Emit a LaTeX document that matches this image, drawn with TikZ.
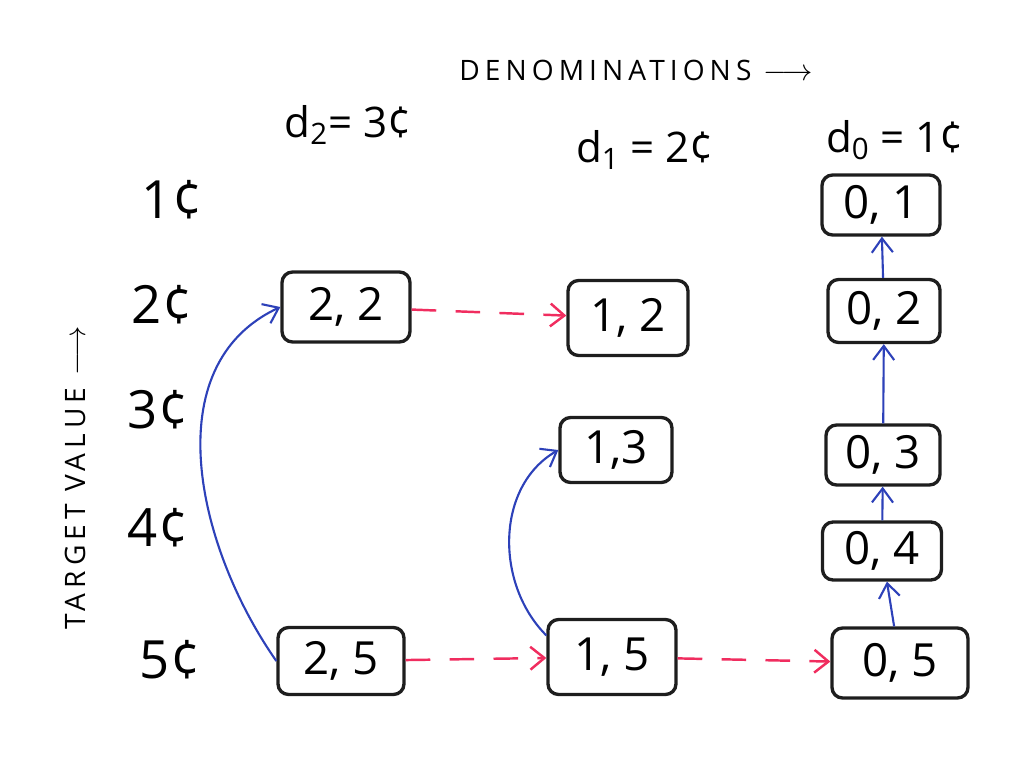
\documentclass[tikz,border=0pt]{standalone}
\usepackage{fontspec}
\setmainfont{Open Sans}
\usetikzlibrary{arrows.meta}
\definecolor{colBox}{RGB}{30,30,30}
\definecolor{colTake}{RGB}{45,65,185}
\definecolor{colSkip}{RGB}{240,45,95}
\tikzset{
  cell/.style={
    rectangle, rounded corners=6pt,
    draw=colBox, line width=1.9pt,
    text centered, font=\fontsize{26}{30}\selectfont,
    inner sep=2pt
  },
  takeArr/.style={
    -{Straight Barb[length=8pt, width=12pt]}, line width=1.2pt, color=colTake
  },
  skipArr/.style={
    -{Straight Barb[length=8pt, width=13pt]}, line width=1.4pt, color=colSkip,
    dash pattern=on 14pt off 11pt
  },
  rowLab/.style={font=\fontsize{30}{34}\selectfont},
  colLab/.style={font=\fontsize{24}{28}\selectfont},
  axisLab/.style={font=\fontsize{16}{19}\selectfont\addfontfeature{LetterSpace=18}}
}

\begin{document}
\begin{tikzpicture}[x=0.02cm, y=-0.02cm]
  \useasboundingbox (0,0) rectangle (1024,768);

  % table cells
  \node[cell, minimum width=2.56cm, minimum height=1.4cm] (c22) at (346,307) {2, 2};
  \node[cell, minimum width=2.52cm, minimum height=1.34cm] (c25) at (341,661) {2, 5};
  \node[cell, minimum width=2.4cm, minimum height=1.5cm] (c12) at (628,318) {1, 2};
  \node[cell, minimum width=2.24cm, minimum height=1.3cm] (c13) at (616,450) {1,3};
  \node[cell, minimum width=2.56cm, minimum height=1.5cm] (c15) at (612,657) {1, 5};
  \node[cell, minimum width=2.36cm, minimum height=1.2cm] (c01) at (881,205) {0, 1};
  \node[cell, minimum width=2.24cm, minimum height=1.26cm] (c02) at (884,311) {0, 2};
  \node[cell, minimum width=2.28cm, minimum height=1.2cm] (c03) at (883,455) {0, 3};
  \node[cell, minimum width=2.38cm, minimum height=1.16cm] (c04) at (882,551) {0, 4};
  \node[cell, minimum width=2.72cm, minimum height=1.4cm] (c05) at (900,663) {0, 5};

  % row and column labels
  \node[rowLab] (r1) at (172,200) {1¢};
  \node[rowLab] (r2) at (162,305) {2¢};
  \node[rowLab] (r3) at (158,410) {3¢};
  \node[rowLab] (r4) at (158,528) {4¢};
  \node[rowLab] (r5) at (170,660) {5¢};
  \node[colLab] (d2) at (348,125) {d\textsubscript{2}= 3¢};
  \node[colLab] (d1) at (645,150) {d\textsubscript{1} = 2¢};
  \node[colLab] (d0) at (895,140) {d\textsubscript{0} = 1¢};

  % axis titles
  \node[axisLab] (denom) at (636,70) {DENOMINATIONS $\longrightarrow$};
  \node[axisLab, rotate=90] (target) at (75,478) {TARGET VALUE $\longrightarrow$};

  % use the coin
  \coordinate (s15) at ([yshift=-10pt]c15.north west);
  \draw[takeArr] (c25.west) to[out=125, in=205] (c22.west);
  \draw[takeArr] (s15) to[out=135, in=210] (c13.west);
  \draw[takeArr] (c05) -- (c04);
  \draw[takeArr] (c04) -- (c03);
  \draw[takeArr] (c03) -- (c02);
  \draw[takeArr] (c02) -- (c01);

  % skip the coin
  \draw[skipArr] (c22) -- (c12);
  \draw[skipArr] (c25) -- (c15);
  \draw[skipArr] (c15) -- (c05);

\end{tikzpicture}
\end{document}
